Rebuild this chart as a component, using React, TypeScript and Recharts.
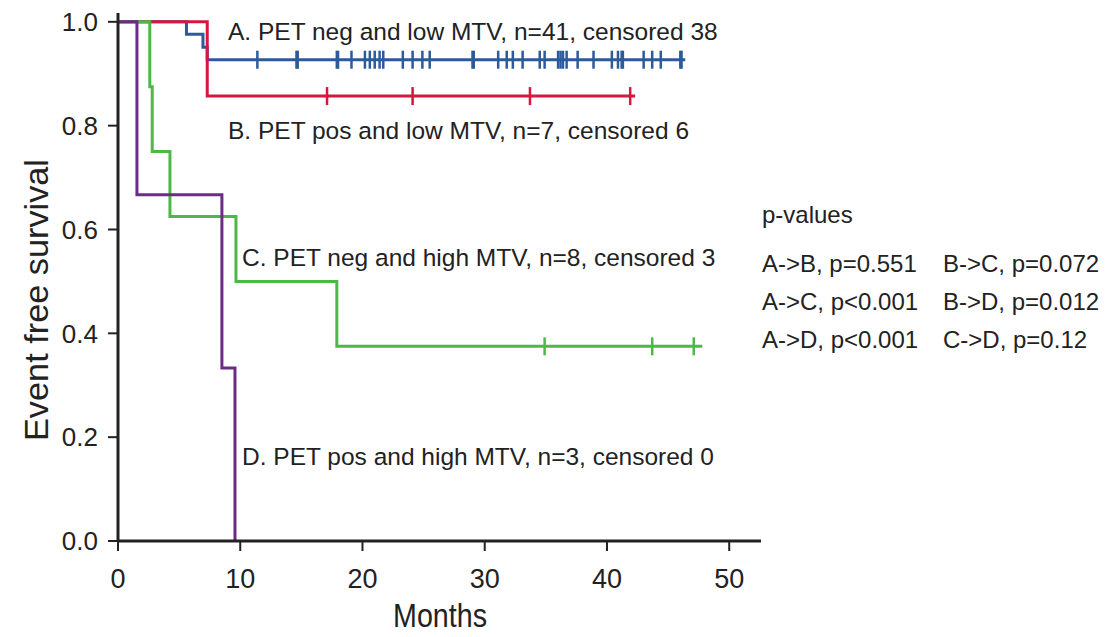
import { ComposedChart, Line, Scatter, XAxis, YAxis } from 'recharts';

// Kaplan-Meier steps: time (months) and survival after the event
const groupATimes = [0, 5.6, 6.95, 7.3, 46.4];
const groupASurv = [1, 0.976, 0.951, 0.927, 0.927];
const groupACensored = [
  11.4, 14.6, 14.7, 17.9, 18.0, 19.1, 20.2, 20.6, 21.0, 21.4, 21.7, 23.3, 24.1, 24.9,
  25.5, 29.0, 29.1, 31.1, 31.8, 32.3, 33.1, 34.5, 34.9, 36.0, 36.2, 36.4, 36.7, 37.6,
  38.9, 40.4, 40.9, 41.2, 41.3, 43.0, 43.7, 44.4, 46.0, 46.1,
];

const groupBTimes = [0, 7.3, 42.3];
const groupBSurv = [1, 0.857, 0.857];
const groupBCensored = [17.1, 24.1, 33.7, 41.9];

const groupCTimes = [0, 2.6, 2.8, 4.25, 9.65, 17.9, 47.8];
const groupCSurv = [1, 0.875, 0.75, 0.625, 0.5, 0.375, 0.375];
const groupCCensored = [34.9, 43.7, 47.1];

const groupDTimes = [0, 1.55, 8.5, 9.57];
const groupDSurv = [1, 0.667, 0.333, 0];

const xTicks = [0, 10, 20, 30, 40, 50];
const yTicks = [0, 0.2, 0.4, 0.6, 0.8, 1.0];

const pValues = [
  ['A->B, p=0.551', 'B->C, p=0.072'],
  ['A->C, p<0.001', 'B->D, p=0.012'],
  ['A->D, p<0.001', 'C->D, p=0.12'],
];

const BLUE = '#2c5b9b';
const RED = '#d3173f';
const GREEN = '#4db848';
const PURPLE = '#6b2c86';
const FONT = '"Liberation Sans", Arial, sans-serif';

const steps = (t: number[], s: number[]) => t.map((v, i) => ({ t: v, s: s[i] }));
const marks = (t: number[], s: number) => t.map((v) => ({ t: v, s }));

const censorShape = (color: string) => (props: any) => {
  const { cx, cy } = props;
  return <line x1={cx} x2={cx} y1={cy - 9} y2={cy + 9} stroke={color} strokeWidth={2.5} />;
};

export default function App() {
  return (
    <div style={{ position: 'absolute', left: 0, top: 0, width: 1109, height: 637 }}>
      <ComposedChart
        width={1109}
        height={637}
        margin={{ top: 13, right: 348, bottom: 36, left: 0 }}
      >
        <XAxis
          type="number"
          dataKey="t"
          domain={[0, 52.6]}
          ticks={xTicks}
          allowDataOverflow
          height={60}
          tickSize={10}
          tickMargin={18}
          axisLine={{ stroke: '#222', strokeWidth: 3 }}
          tickLine={{ stroke: '#222', strokeWidth: 2 }}
          tick={{ fill: '#222', fontSize: 27, fontFamily: FONT }}
        />
        <YAxis
          type="number"
          dataKey="s"
          domain={[0, 1.017]}
          ticks={yTicks}
          allowDataOverflow
          width={118}
          tickSize={10}
          tickMargin={10}
          tickFormatter={(v: number) => v.toFixed(1)}
          axisLine={{ stroke: '#222', strokeWidth: 3 }}
          tickLine={{ stroke: '#222', strokeWidth: 2 }}
          tick={{ fill: '#222', fontSize: 26, fontFamily: FONT }}
        />
        <Line data={steps(groupATimes, groupASurv)} dataKey="s" type="stepAfter" stroke={BLUE} strokeWidth={3} dot={false} isAnimationActive={false} />
        <Scatter data={marks(groupACensored, 0.927)} dataKey="s" shape={censorShape(BLUE)} isAnimationActive={false} />
        <Line data={steps(groupBTimes, groupBSurv)} dataKey="s" type="stepAfter" stroke={RED} strokeWidth={3} dot={false} isAnimationActive={false} />
        <Scatter data={marks(groupBCensored, 0.857)} dataKey="s" shape={censorShape(RED)} isAnimationActive={false} />
        <Line data={steps(groupCTimes, groupCSurv)} dataKey="s" type="stepAfter" stroke={GREEN} strokeWidth={3} dot={false} isAnimationActive={false} />
        <Scatter data={marks(groupCCensored, 0.375)} dataKey="s" shape={censorShape(GREEN)} isAnimationActive={false} />
        <Line data={steps(groupDTimes, groupDSurv)} dataKey="s" type="stepAfter" stroke={PURPLE} strokeWidth={3} dot={false} isAnimationActive={false} />
      </ComposedChart>

      <svg
        width={1109}
        height={637}
        style={{ position: 'absolute', left: 0, top: 0, pointerEvents: 'none' }}
        fontFamily={FONT}
        fill="#222"
      >
        <text x={228} y={40} fontSize={24.5}>A. PET neg and low MTV, n=41, censored 38</text>
        <text x={228} y={139} fontSize={24.5}>B. PET pos and low MTV, n=7, censored 6</text>
        <text x={242} y={266} fontSize={24.5}>C. PET neg and high MTV, n=8, censored 3</text>
        <text x={242} y={465} fontSize={24.5}>D. PET pos and high MTV, n=3, censored 0</text>

        <text x={762} y={223} fontSize={24}>p-values</text>
        {pValues.map((row, i) => (
          <g key={i}>
            <text x={762} y={272 + i * 38} fontSize={24}>{row[0]}</text>
            <text x={943} y={272 + i * 38} fontSize={24}>{row[1]}</text>
          </g>
        ))}

        <text x={440} y={627} fontSize={33} textAnchor="middle" textLength={94} lengthAdjust="spacingAndGlyphs">
          Months
        </text>
        <text
          transform="translate(48,300) rotate(-90)"
          fontSize={33}
          textAnchor="middle"
          textLength={282}
          lengthAdjust="spacingAndGlyphs"
        >
          Event free survival
        </text>
      </svg>
    </div>
  );
}
